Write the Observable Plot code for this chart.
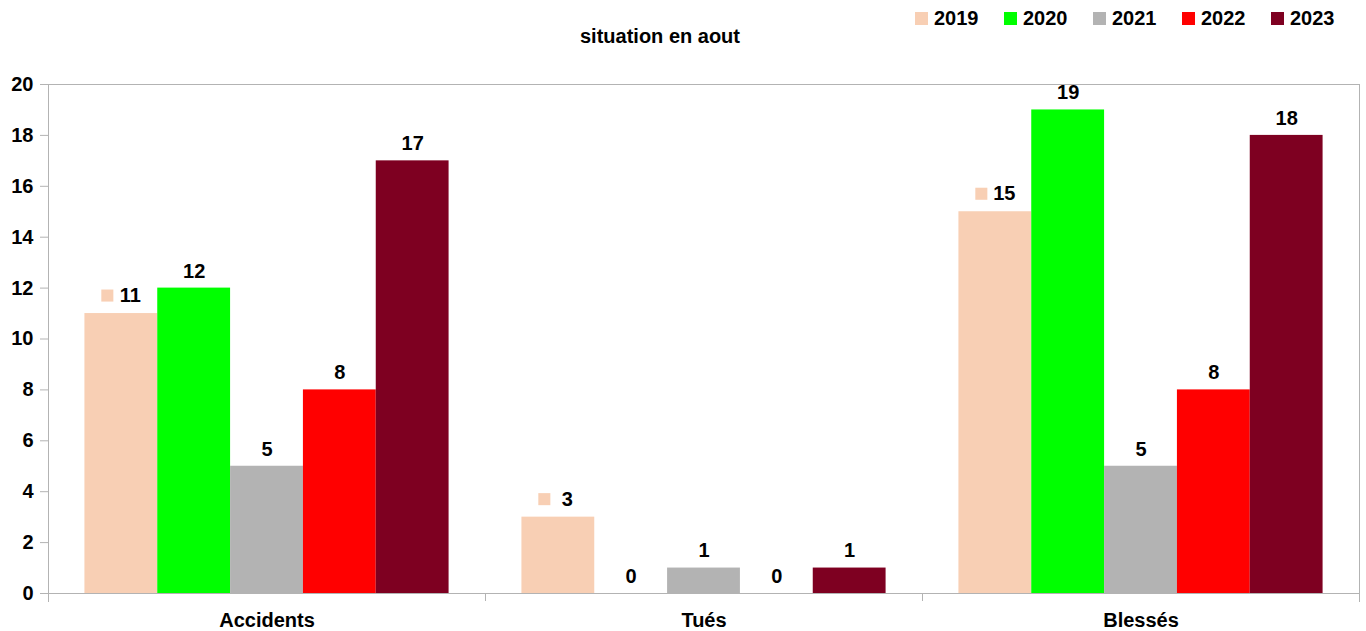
<!DOCTYPE html>
<html><head><meta charset="utf-8">
<script src="https://cdn.jsdelivr.net/npm/d3@7"></script>
<script src="https://cdn.jsdelivr.net/npm/@observablehq/plot@0.6"></script>
<style>
body{margin:0;background:#fff;font-family:"Liberation Sans",Arial,sans-serif;}
#wrap{position:relative;width:1366px;height:631px;}
#title{position:absolute;left:0;width:1320px;top:24px;text-align:center;font-weight:bold;font-size:20px;line-height:24px;color:#000;}
#legend{position:absolute;left:915px;top:6px;display:flex;}
.item{width:89px;display:flex;align-items:center;font-weight:bold;font-size:20px;line-height:24px;color:#000;}
.sw{width:13px;height:13px;margin-right:6px;}
#chart{position:absolute;left:0;top:0;}
</style></head><body>
<div id="wrap"><div id="chart"></div><div id="title">situation en aout</div><div id="legend"></div></div>
<script>
const categories = ["Accidents", "Tués", "Blessés"];
const years = ["2019", "2020", "2021", "2022", "2023"];
const v2019 = [11, 3, 15];
const v2020 = [12, 0, 19];
const v2021 = [5, 1, 5];
const v2022 = [8, 0, 8];
const v2023 = [17, 1, 18];
const colors = ["#f8cfb4", "#00ff00", "#b3b3b3", "#ff0000", "#7e0021"];
const yTicks = [0, 2, 4, 6, 8, 10, 12, 14, 16, 18, 20];

const series = [v2019, v2020, v2021, v2022, v2023];
const key = (c, y) => c + " " + y;
const table = [];
categories.forEach((c, i) => years.forEach((y, j) => table.push({cat: c, year: y, key: key(c, y), value: series[j][i]})));

// x band domain: bars of each category, with one empty separator band between categories
const domain = [];
const seps = [];
categories.forEach((c, i) => {
  years.forEach(y => domain.push(key(c, y)));
  if (i < categories.length - 1) { const s = "sep" + i; seps.push(s); domain.push(s); }
});
const mid = years[Math.floor(years.length / 2)];
const labelKeys = categories.map(c => key(c, mid));
const catOf = new Map(categories.map(c => [key(c, mid), c]));

const first = table.filter(d => d.year === years[0]);
const rest = table.filter(d => d.year !== years[0]);
const gray = "#b3b3b3";

const chart = Plot.plot({
  width: 1366, height: 631,
  marginTop: 84, marginBottom: 38, marginLeft: 48, marginRight: 7,
  style: {fontFamily: "'Liberation Sans', Arial, sans-serif", fontSize: "20px", fontWeight: "bold", color: "#000", background: "transparent", overflow: "visible"},
  x: {type: "band", domain, paddingInner: 0, paddingOuter: 0.5, round: false, axis: null, label: null},
  y: {domain: [0, 20], axis: null, label: null},
  color: {domain: years, range: colors},
  marks: [
    Plot.barY(table, {x: "key", y: "value", fill: "year"}),
    Plot.frame({anchor: "top", stroke: gray}),
    Plot.frame({anchor: "bottom", stroke: gray}),
    Plot.frame({anchor: "left", stroke: gray, insetBottom: -8}),
    Plot.frame({anchor: "right", stroke: gray, insetBottom: -8}),
    Plot.axisX({ticks: seps, tickSize: 8, tickFormat: () => "", stroke: gray, label: null}),
    Plot.axisX({ticks: labelKeys, tickSize: 0, tickPadding: 19, tickFormat: k => catOf.get(k), fill: "#000", fontSize: 20, label: null}),
    Plot.axisY({ticks: yTicks, tickSize: 8, tickPadding: 7, stroke: gray, fill: "#000", fontSize: 20, label: null}),
    Plot.text(rest, {x: "key", y: "value", text: d => String(d.value), dy: -17, fill: "#000", fontSize: 20, fontWeight: "bold"}),
    Plot.text(first, {x: "key", y: "value", text: d => String(d.value), dx: 9, dy: -18, fill: "#000", fontSize: 20, fontWeight: "bold"}),
    Plot.dot(first, {x: "key", y: "value", symbol: "square", r: 6.8, fill: "year", stroke: "none", dx: -14, dy: -18})
  ]
});
document.getElementById("chart").appendChild(chart);

const legend = document.getElementById("legend");
years.forEach((y, i) => {
  const it = document.createElement("div"); it.className = "item";
  const sw = document.createElement("span"); sw.className = "sw"; sw.style.background = colors[i];
  const t = document.createElement("span"); t.textContent = y;
  it.appendChild(sw); it.appendChild(t); legend.appendChild(it);
});
</script>
</body></html>
